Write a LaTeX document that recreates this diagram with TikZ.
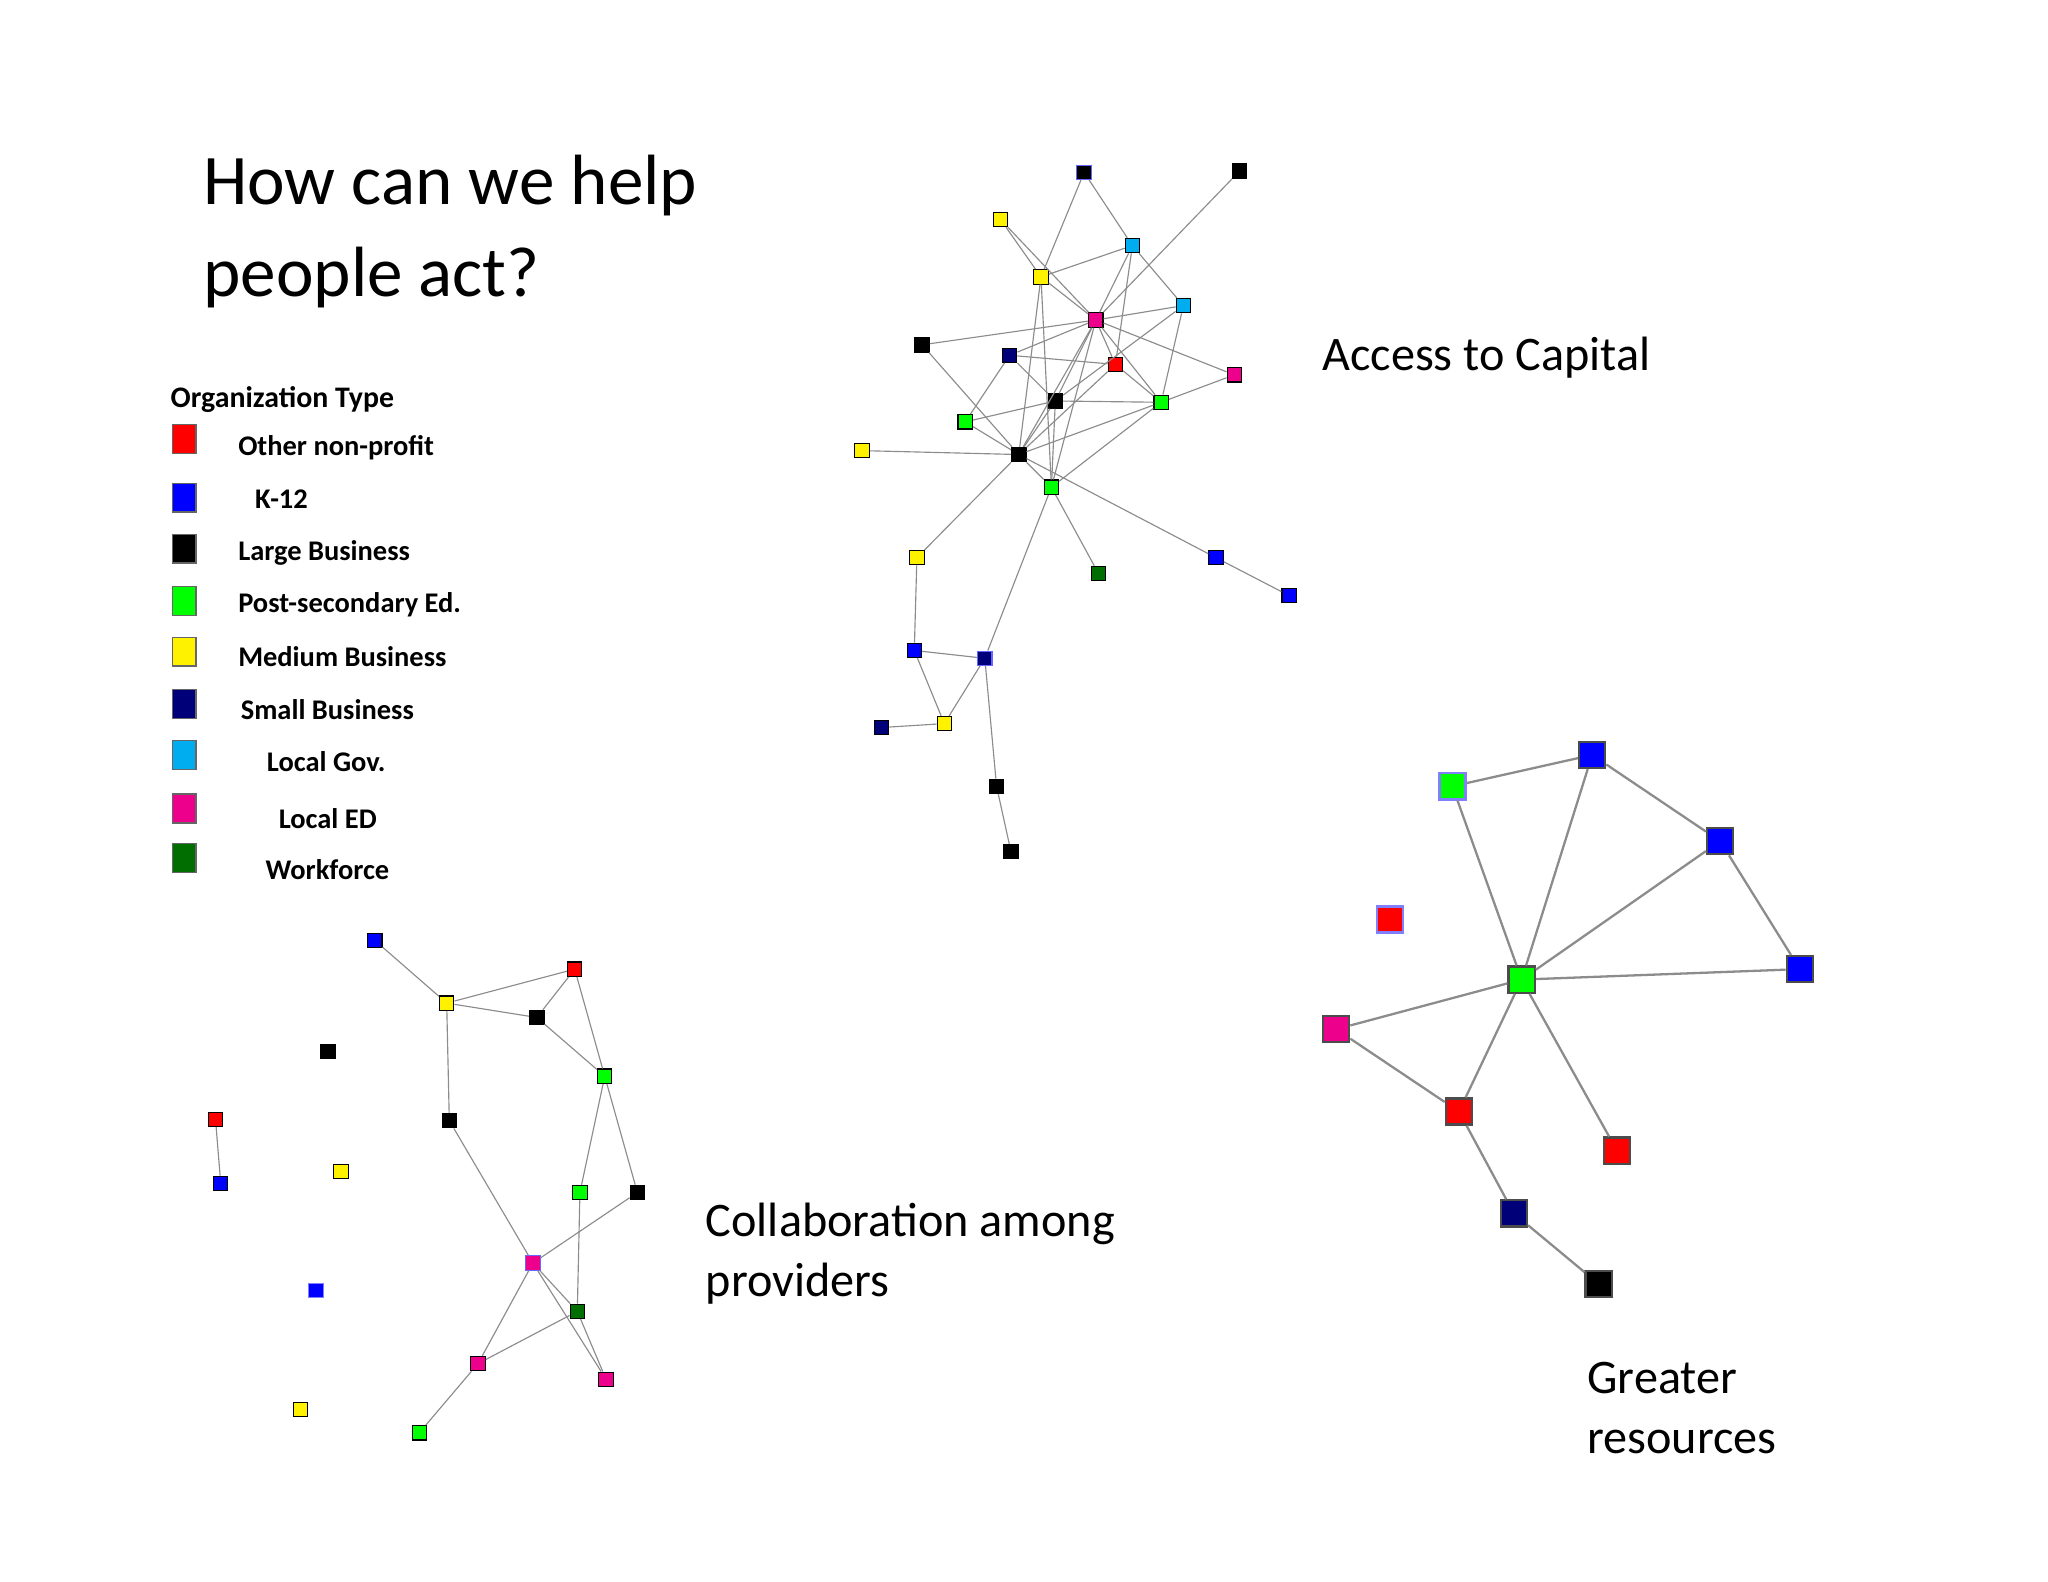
\documentclass[tikz,border=0pt]{standalone}
\usepackage{fontspec}
\setmainfont{Carlito}
\begin{document}
\begin{tikzpicture}[x=0.1mm,y=-0.1mm,
 sq/.style={draw=black,line width=0.25pt,minimum size=1.1mm,inner sep=0pt,fill=#1},
 bq/.style={draw=black!70,line width=0.5pt,minimum size=2mm,inner sep=0pt,fill=#1},
 lg/.style={draw=black!60,line width=0.3pt,minimum width=1.8mm,minimum height=2.2mm,inner sep=0pt,fill=#1},
 ed/.style={draw=black!45,line width=0.25pt},
 be/.style={draw=black!45,line width=0.5pt},
 lt/.style={anchor=west,font=\bfseries\fontsize{6.2}{7}\selectfont},
 big/.style={anchor=west,font=\fontsize{10.5}{13}\selectfont,align=left}]
\useasboundingbox (0,0) rectangle (1568,1211);
\definecolor{navy}{RGB}{0,0,120}
\definecolor{dgreen}{RGB}{0,110,0}
% title
\node[anchor=north west,align=left,font=\fontsize{15.5}{20}\selectfont,inner sep=0pt] (title) at (155,118) {How can we help\\people act?};
% legend
\node[anchor=west,font=\bfseries\fontsize{6.5}{8}\selectfont,inner sep=0pt] (lh) at (130,306) {Organization Type};
\node[lg=red] (l1) at (141,336) {}; \node[lt] (t1) at (170,343) {Other non-profit};
\node[lg=blue] (l2) at (141,381) {}; \node[lt] (t2) at (183,382) {K-12};
\node[lg=black] (l3) at (141,420) {}; \node[lt] (t3) at (170,423) {Large Business};
\node[lg=green] (l4) at (141,460) {}; \node[lt] (t4) at (170,463) {Post-secondary Ed.};
\node[lg=yellow] (l5) at (141,499) {}; \node[lt] (t5) at (170,503) {Medium Business};
\node[lg=navy] (l6) at (141,539) {}; \node[lt] (t6) at (172,543) {Small Business};
\node[lg=cyan] (l7) at (141,578) {}; \node[lt] (t7) at (192,583) {Local Gov.};
\node[lg=magenta] (l8) at (141,619) {}; \node[lt] (t8) at (201,627) {Local ED};
\node[lg=dgreen] (l9) at (141,657) {}; \node[lt] (t9) at (191,666) {Workforce};
% labels
\node[big] (cap) at (1000,274) {Access to Capital};
\node[big] (col) at (528,960) {Collaboration among\\providers};
\node[big] (gr) at (1203,1078) {Greater\\resources};
% top network
\node[sq=black,draw=blue!60] (A1) at (830,132) {};
\node[sq=black] (A2) at (949,131) {};
\node[sq=yellow] (A3) at (766,168) {};
\node[sq=cyan] (A4) at (867,188) {};
\node[sq=yellow] (A5) at (797,212) {};
\node[sq=cyan] (A6) at (906,234) {};
\node[sq=magenta] (A7) at (839,245) {};
\node[sq=black] (A8) at (706,264) {};
\node[sq=navy] (A9) at (773,272) {};
\node[sq=red] (A10) at (854,279) {};
\node[sq=magenta] (A11) at (945,287) {};
\node[sq=black] (A12) at (808,307) {};
\node[sq=green] (A13) at (889,308) {};
\node[sq=green] (A14) at (739,323) {};
\node[sq=yellow] (A15) at (660,345) {};
\node[sq=black] (A16) at (780,348) {};
\node[sq=green] (A17) at (805,373) {};
\node[sq=yellow] (A18) at (702,427) {};
\node[sq=dgreen] (A19) at (841,439) {};
\node[sq=blue] (A20) at (931,427) {};
\node[sq=blue] (A21) at (987,456) {};
\node[sq=blue] (A22) at (700,498) {};
\node[sq=navy,draw=blue!60] (A23) at (754,504) {};
\node[sq=navy] (A24) at (675,557) {};
\node[sq=yellow] (A25) at (723,554) {};
\node[sq=black] (A26) at (763,602) {};
\node[sq=black] (A27) at (774,652) {};
\begin{scope}[on background layer/.style={}]
\foreach \a/\b in {A1/A5,A1/A4,A2/A7,A3/A5,A3/A7,A5/A4,A5/A7,A5/A16,A5/A17,A4/A7,A4/A10,A4/A6,A6/A7,A6/A13,A6/A12,A8/A7,A8/A16,A9/A7,A9/A10,A9/A14,A9/A12,A7/A10,A7/A13,A7/A11,A7/A12,A7/A16,A7/A17,A10/A13,A10/A16,A11/A13,A12/A13,A12/A14,A12/A16,A12/A17,A13/A16,A13/A17,A14/A16,A15/A16,A16/A17,A16/A20,A16/A18,A17/A19,A17/A23,A20/A21,A18/A22,A22/A23,A22/A25,A24/A25,A23/A25,A23/A26,A26/A27}
  \draw[ed] (\a) -- (\b);
\end{scope}
% bottom-left network
\node[sq=blue] (B1) at (287,720) {};
\node[sq=red] (B2) at (440,742) {};
\node[sq=yellow] (B3) at (342,768) {};
\node[sq=black] (B4) at (411,779) {};
\node[sq=black] (B5) at (251,805) {};
\node[sq=green] (B6) at (463,824) {};
\node[sq=red] (B7) at (165,857) {};
\node[sq=black] (B8) at (344,858) {};
\node[sq=yellow] (B9) at (261,897) {};
\node[sq=blue] (B10) at (169,906) {};
\node[sq=green] (B11) at (444,913) {};
\node[sq=black] (B12) at (488,913) {};
\node[sq=magenta,draw=blue!60] (B13) at (408,967) {};
\node[sq=blue,draw=blue!50] (B14) at (242,988) {};
\node[sq=dgreen] (B15) at (442,1004) {};
\node[sq=magenta] (B16) at (366,1044) {};
\node[sq=magenta] (B17) at (464,1056) {};
\node[sq=yellow] (B18) at (230,1079) {};
\node[sq=green] (B19) at (321,1097) {};
\foreach \a/\b in {B1/B3,B3/B2,B3/B4,B2/B4,B2/B6,B4/B6,B3/B8,B6/B11,B6/B12,B8/B13,B12/B13,B11/B15,B7/B10,B13/B16,B13/B15,B13/B17,B15/B17,B15/B16,B16/B19}
  \draw[ed] (\a) -- (\b);
% right network
\node[bq=green,draw=blue!50] (C1) at (1112,602) {};
\node[bq=blue] (C2) at (1219,578) {};
\node[bq=blue] (C3) at (1317,644) {};
\node[bq=red,draw=blue!50] (C4) at (1064,704) {};
\node[bq=blue] (C5) at (1378,742) {};
\node[bq=green] (C6) at (1165,750) {};
\node[bq=magenta] (C7) at (1023,788) {};
\node[bq=red] (C8) at (1117,851) {};
\node[bq=red] (C9) at (1238,881) {};
\node[bq=navy] (C10) at (1159,929) {};
\node[bq=black] (C11) at (1224,983) {};
\foreach \a/\b in {C1/C2,C1/C6,C2/C6,C2/C3,C3/C6,C3/C5,C6/C5,C6/C7,C6/C8,C6/C9,C7/C8,C8/C10,C10/C11}
  \draw[be] (\a) -- (\b);
\end{tikzpicture}
\end{document}
